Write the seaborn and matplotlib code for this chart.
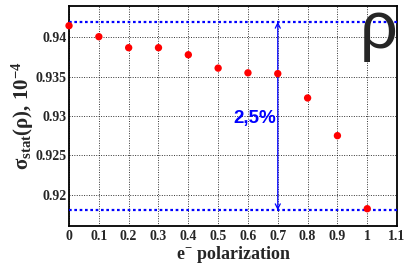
import numpy as np
import pandas as pd
import seaborn as sns
import matplotlib
matplotlib.use('Agg')
import matplotlib.pyplot as plt
from matplotlib.ticker import MultipleLocator, FixedLocator

polarization = [0.0, 0.1, 0.2, 0.3, 0.4, 0.5, 0.6, 0.7, 0.8, 0.9, 1.0]
sigma_stat = [0.9415, 0.9401, 0.9387, 0.9387, 0.9378, 0.9361, 0.9355, 0.9354, 0.9323, 0.9275, 0.9182]
band_top = 0.942
band_bottom = 0.918
y_ticks = [0.92, 0.925, 0.93, 0.935, 0.94]
y_tick_labels = ['0.92', '0.925', '0.93', '0.935', '0.94']
x_ticks = [0, 0.1, 0.2, 0.3, 0.4, 0.5, 0.6, 0.7, 0.8, 0.9, 1, 1.1]
x_tick_labels = ['0', '0.1', '0.2', '0.3', '0.4', '0.5', '0.6', '0.7', '0.8', '0.9', '1', '1.1']

df = pd.DataFrame({'pol': polarization, 'sigma': sigma_stat})

sns.set_style('white')
plt.rcParams['font.family'] = ['Liberation Serif', 'DejaVu Serif']
plt.rcParams['mathtext.fontset'] = 'custom'
plt.rcParams['mathtext.rm'] = 'Liberation Serif:bold'
plt.rcParams['mathtext.it'] = 'Liberation Serif:bold'
plt.rcParams['mathtext.bf'] = 'Liberation Serif:bold'

fig = plt.figure(figsize=(4.06, 2.64), dpi=100)
ax = fig.add_axes([0.170, 0.144, 0.808, 0.833])

sns.scatterplot(data=df, x='pol', y='sigma', ax=ax, color='red', s=28,
                edgecolor='none', zorder=5, clip_on=False)

ax.set_xlim(0, 1.1)
ax.set_ylim(0.916, 0.944)

ax.axhline(band_top, color='blue', ls=(0, (1.2, 1.2)), lw=1.6, zorder=3)
ax.axhline(band_bottom, color='blue', ls=(0, (1.2, 1.2)), lw=1.6, zorder=3)
ax.annotate('', xy=(0.7, band_top), xytext=(0.7, band_bottom),
            arrowprops=dict(arrowstyle='<->', color='blue', lw=0.9,
                            mutation_scale=9, shrinkA=0, shrinkB=0), zorder=4)
ax.text(0.695, 0.9297, '2,5%', color='blue', fontsize=13.5, fontweight='bold',
        family=['Liberation Sans', 'DejaVu Sans'], ha='right', va='center')
ax.text(1.037, 0.9387, 'ρ', fontsize=48, ha='center', va='baseline',
        family=['Liberation Sans', 'DejaVu Sans'])

ax.xaxis.set_major_locator(FixedLocator(x_ticks))
ax.set_xticklabels(x_tick_labels)
ax.xaxis.set_minor_locator(MultipleLocator(0.02))
ax.yaxis.set_major_locator(FixedLocator(y_ticks))
ax.set_yticklabels(y_tick_labels)
ax.yaxis.set_minor_locator(MultipleLocator(0.001))

ax.grid(True, which='major', color='black', ls=(0, (1, 1.5)), lw=0.7, alpha=0.8)
ax.tick_params(which='major', direction='in', length=8, width=1.0,
               labelsize=10, pad=3)
ax.tick_params(axis='y', which='major', pad=1.5)
ax.tick_params(which='minor', direction='in', length=4, width=0.8)
for lab in ax.get_xticklabels() + ax.get_yticklabels():
    lab.set_fontweight('bold')
for sp in ax.spines.values():
    sp.set_color('black')
    sp.set_linewidth(1.3)

ax.set_xlabel(r'e$^{-}$ polarization', fontsize=13, fontweight='bold')
ax.xaxis.set_label_coords(0.5, -0.08)
ax.set_ylabel(r'σ$_{\mathrm{stat}}$(ρ), 10$^{-4}$', fontsize=15, fontweight='bold')
ax.yaxis.set_label_coords(-0.1, 0.5)

fig.savefig('out.png', dpi=100)
